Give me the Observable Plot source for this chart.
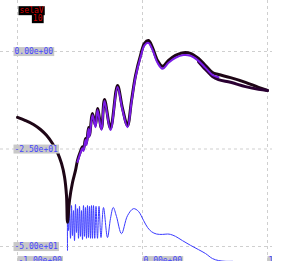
<!DOCTYPE html>
<html>
<head>
<meta charset="utf-8">
<script src="https://cdn.jsdelivr.net/npm/d3@7"></script>
<script src="https://cdn.jsdelivr.net/npm/@observablehq/plot@0.6"></script>
<style>
  html, body { margin: 0; padding: 0; background: #fff; }
  #chart svg { display: block; }
</style>
</head>
<body>
<div id="chart"></div>
<script>
// ---- data ----
const mainX = [-1.000,-0.936,-0.872,-0.816,-0.768,-0.720,-0.680,-0.648,-0.624,-0.608,-0.600,-0.584,-0.560,-0.536,-0.520,-0.496,-0.480,-0.472,-0.456,-0.448,-0.432,-0.424,-0.400,-0.376,-0.360,-0.328,-0.304,-0.256,-0.200,-0.160,-0.120,-0.088,-0.056,-0.016,0.016,0.048,0.080,0.120,0.160,0.208,0.264,0.328,0.384,0.448,0.504,0.560,0.608,0.704,0.824,0.928,1.000];
const mainY = [-16.9,-17.7,-18.7,-20.0,-21.5,-23.6,-25.9,-28.7,-32.1,-36.9,-43.8,-38.2,-33.6,-30.5,-27.9,-25.6,-24.4,-25.1,-22.3,-23.6,-19.5,-21.5,-15.9,-19.0,-14.6,-19.7,-12.3,-19.7,-8.7,-14.6,-19.0,-12.6,-6.2,-1.0,2.1,2.8,1.0,-2.3,-3.8,-2.3,-1.0,-0.3,-0.5,-1.8,-3.6,-5.4,-5.9,-6.7,-7.9,-9.2,-10.0];

const bandX = [-0.520,-0.496,-0.480,-0.472,-0.456,-0.448,-0.432,-0.424,-0.400,-0.376,-0.360,-0.328,-0.304,-0.256,-0.200,-0.160,-0.120,-0.088,-0.056,-0.016,0.016,0.048,0.080,0.120,0.160,0.208,0.264,0.328,0.384,0.448,0.504,0.560,0.608];
const bandY = [-28.3,-26.0,-24.8,-25.5,-22.7,-24.0,-19.9,-21.9,-16.3,-19.4,-15.0,-20.1,-12.7,-20.1,-9.1,-15.0,-19.4,-13.0,-6.6,-1.5,1.6,2.2,0.4,-2.9,-4.4,-2.9,-1.6,-0.9,-1.1,-2.4,-4.2,-6.0,-6.6];

const lowerX = [0.448,0.504,0.560,0.608,0.704,0.824,0.928,1.000];
const lowerY = [-2.6,-4.6,-6.4,-7.2,-7.9,-9.0,-9.7,-10.0];

const blueX = [-0.600,-0.600,-0.592,-0.584,-0.576,-0.568,-0.560,-0.552,-0.544,-0.536,-0.528,-0.520,-0.512,-0.504,-0.496,-0.488,-0.480,-0.472,-0.464,-0.456,-0.448,-0.440,-0.432,-0.424,-0.416,-0.408,-0.400,-0.392,-0.382,-0.372,-0.360,-0.348,-0.332,-0.312,-0.280,-0.256,-0.234,-0.208,-0.168,-0.120,-0.072,-0.032,0.008,0.040,0.072,0.112,0.160,0.200,0.224,0.264,0.320,0.384,0.448,0.504,0.560,0.608,0.664,0.720];
const blueY = [-51.0,-39.2,-45.9,-41.3,-47.9,-39.5,-47.2,-40.8,-48.5,-39.2,-46.4,-40.3,-47.9,-39.7,-47.4,-40.8,-48.2,-39.5,-47.4,-40.0,-47.9,-39.5,-47.7,-39.7,-47.9,-39.5,-47.9,-39.5,-47.9,-39.7,-47.9,-39.7,-47.7,-40.0,-47.7,-42.8,-40.0,-42.3,-46.7,-42.1,-40.3,-41.0,-43.3,-45.1,-46.2,-46.8,-46.9,-46.8,-46.9,-47.4,-48.5,-49.7,-50.8,-51.8,-53.1,-53.6,-53.8,-53.8];

const xTicks = [-1, 0, 1];
const xTickLabels = ["-1.00e+00", "0.00e+00", "1.00e+00"];
const yTicks = [0, -25, -50];
const yTickLabels = ["0.00e+00", "-2.50e+01", "-5.00e+01"];
const legendTitle = "selaV";
const legendValue = "10";

const pts = (xs, ys) => xs.map((x, i) => ({x, y: ys[i]}));
const mono = "DejaVu Sans Mono, monospace";

const chart = Plot.plot({
  width: 286,
  height: 261,
  marginLeft: 0,
  marginRight: 14,
  marginTop: 0,
  marginBottom: 0,
  x: {domain: [-1.136, 1.04], axis: null},
  y: {domain: [-53.846, 13.077], axis: null},
  style: {background: "#ffffff"},
  marks: [
    Plot.ruleX(xTicks, {stroke: "#cfcfcf", strokeDasharray: "3,3", strokeWidth: 1}),
    Plot.ruleY(yTicks, {stroke: "#cfcfcf", strokeDasharray: "3,3", strokeWidth: 1}),
    Plot.line(pts(blueX, blueY), {x: "x", y: "y", stroke: "#3a3aff", strokeWidth: 1, curve: "catmull-rom", clip: true}),
    Plot.line(pts(mainX, mainY), {x: "x", y: "y", stroke: "#1e0616", strokeWidth: 3, curve: "catmull-rom"}),
    Plot.line(pts(lowerX, lowerY), {x: "x", y: "y", stroke: "#2a0032", strokeWidth: 3, curve: "catmull-rom"}),
    Plot.line(pts(bandX, bandY), {x: "x", y: "y", stroke: "#7a1be6", strokeWidth: 2, curve: "catmull-rom"}),
    Plot.text(yTicks, {y: d => d, text: (d, i) => yTickLabels[i], frameAnchor: "left", dx: 14, textAnchor: "start", lineAnchor: "middle", fill: "#4646ff", fontFamily: mono, fontSize: 8}),
    Plot.text(xTicks, {x: d => d, text: (d, i) => xTickLabels[i], frameAnchor: "bottom", dx: 1, dy: -1, textAnchor: "start", lineAnchor: "middle", fill: "#4646ff", fontFamily: mono, fontSize: 8, clip: true}),
    Plot.text([legendTitle], {text: d => d, frameAnchor: "top-left", dx: 19, dy: 7, textAnchor: "start", lineAnchor: "top", fill: "#d00000", fontFamily: mono, fontSize: 8}),
    Plot.text([legendValue], {text: d => d, frameAnchor: "top-left", dx: 42, dy: 15, textAnchor: "end", lineAnchor: "top", fill: "#d00000", fontFamily: mono, fontSize: 8})
  ]
});

document.getElementById("chart").appendChild(chart);

// label backgrounds: one fill per text mark, in mark order
const textGroups = chart.querySelectorAll('g[aria-label="text"]');
const bgFills = ["#c8c8c8", "#c8c8c8", "#000000", "#000000"];
textGroups.forEach((g, gi) => {
  g.querySelectorAll("text").forEach(t => {
    const b = t.getBBox();
    const r = document.createElementNS("http://www.w3.org/2000/svg", "rect");
    r.setAttribute("x", b.x - 1);
    r.setAttribute("y", b.y);
    r.setAttribute("width", b.width + 2);
    r.setAttribute("height", b.height);
    r.setAttribute("fill", bgFills[gi] || "#c8c8c8");
    const tr = t.getAttribute("transform");
    if (tr) r.setAttribute("transform", tr);
    t.parentNode.insertBefore(r, t);
  });
});
</script>
</body>
</html>
